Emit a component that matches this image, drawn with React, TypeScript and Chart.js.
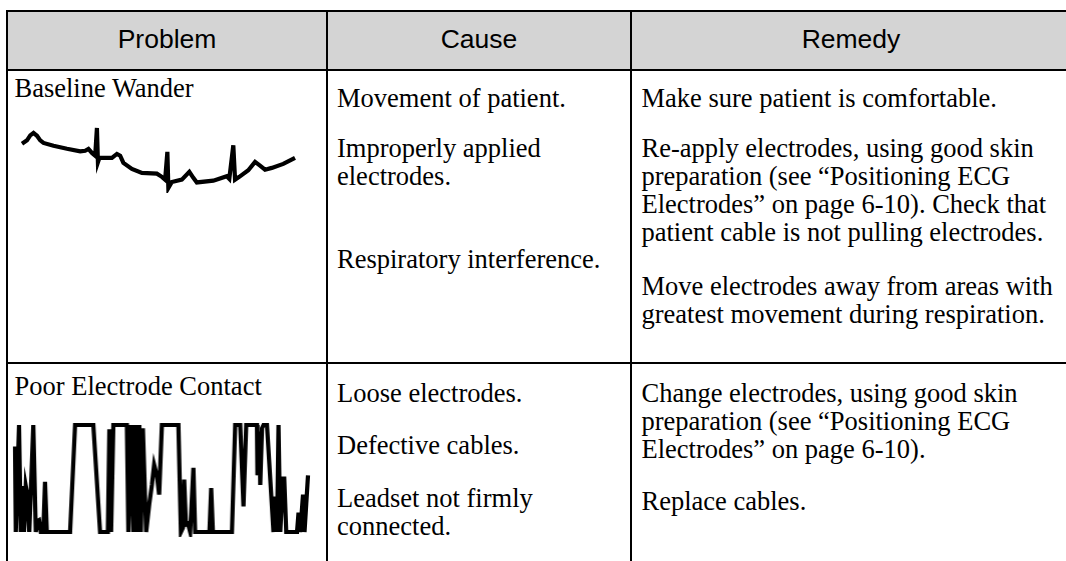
import React, { useEffect, useRef } from "react";
import { Chart, registerables } from "chart.js";

Chart.register(...registerables);

// ---------- table text ----------
const headers = ["Problem", "Cause", "Remedy"];
const problems = ["Baseline Wander", "Poor Electrode Contact"];
const causesRow1 = ["Movement of patient.", "Improperly applied electrodes.", "Respiratory interference."];
const remediesRow1 = [
  "Make sure patient is comfortable.",
  "Re-apply electrodes, using good skin preparation (see \u201CPositioning ECG Electrodes\u201D on page 6-10). Check that patient cable is not pulling electrodes.",
  "Move electrodes away from areas with greatest movement during respiration.",
];
const causesRow2 = ["Loose electrodes.", "Defective cables.", "Leadset not firmly connected."];
const remediesRow2 = [
  "Change electrodes, using good skin preparation (see \u201CPositioning ECG Electrodes\u201D on page 6-10).",
  "Replace cables.",
];

// ---------- waveform data (time in ms, amplitude in mV) ----------
const wanderTimeMs = [
  0, 20, 33, 46, 60, 73, 86, 126, 180, 233, 253, 266, 280, 293, 300, 304, 310, 360, 380, 393,
  406, 440, 480, 540, 560, 573, 582, 586, 600, 640, 670, 686, 700, 766, 820, 830, 846, 853, 870,
  906, 933, 953, 973, 1000, 1046, 1093,
];
const wanderMv = [
  1.8, 1.97, 2.22, 2.34, 2.2, 1.97, 1.84, 1.7, 1.55, 1.42, 1.45, 1.54, 1.34, 1.2, 2.59, 0.87, 1.09,
  1.09, 1.29, 1.2, 0.84, 0.54, 0.34, 0.3, 0.14, 0.0, 1.39, -0.42, -0.12, 0.0, 0.39, 0.09, -0.14,
  -0.05, 0.17, 0.04, 1.72, 0.0, 0.14, 0.47, 0.89, 0.7, 0.5, 0.59, 0.79, 1.09,
];

const contactTimeMs = [
  0, 3, 16, 23, 29, 36, 43, 49, 57, 73, 83, 89, 96, 103, 113, 120, 127, 220, 240, 313, 340, 371,
  377, 384, 393, 447, 453, 463, 473, 480, 489, 497, 503, 511, 524, 537, 547, 556, 567, 576, 587,
  653, 663, 671, 676, 683, 691, 700, 713, 720, 777, 784, 791, 867, 880, 900, 913, 924, 967, 969,
  977, 980, 987, 993, 1007, 1033, 1040, 1047, 1053, 1060, 1071, 1076, 1084, 1127, 1133, 1140,
  1151, 1157, 1171,
];
const contactMv = [
  0.9, -1.5, 1.5, -1.5, -0.21, -1.5, -0.21, -0.45, -1.5, 1.5, -1.5, -1.2, -1.17, -1.5, -1.5,
  -0.09, -1.5, -1.5, 1.5, 1.5, -1.5, -1.5, 1.38, -1.5, 1.5, 1.5, -1.5, 1.5, -1.5, 1.5, -1.5, 1.5,
  -1.5, 1.41, -1.5, -0.69, -0.18, 0.39, 0.09, -0.45, 1.5, 1.5, -1.5, -1.38, -0.03, -1.29, -1.26,
  -1.5, 0.3, -1.5, -1.5, -0.27, -1.5, -1.5, 1.5, 1.5, -0.78, 1.5, 1.5, 0.09, 1.32, -0.18, 1.41,
  1.5, 1.5, -1.5, -0.51, -1.5, 1.5, -1.5, 0.0, 0.0, -1.5, -1.5, -0.96, -1.5, -0.45, -1.5, 0.09,
];

// ---------- layout ----------
const BORDER = 2;
const X_LEFT = 6;
const X_DIV1 = 326;
const X_DIV2 = 630;
const X_RIGHT = 1070;
const Y_TOP = 10;
const Y_HEAD = 69;
const Y_ROW = 362;
const Y_BOTTOM = 620;

const SERIF = "'Liberation Serif', 'Times New Roman', Times, serif";
const SANS = "'Liberation Sans', Arial, Helvetica, sans-serif";
const FS = 26.5;
const LH = 28;
const BASE_OFF = 22.95; // baseline offset inside a 28px line box
const HEAD_BASE_OFF = 23.2; // sans baseline offset inside a 28px line box

type WaveProps = {
  times: number[];
  values: number[];
  xMax: number;
  yMin: number;
  yMax: number;
  left: number;
  top: number;
  width: number;
  height: number;
};

const PAD = 5;

function Waveform({ times, values, xMax, yMin, yMax, left, top, width, height }: WaveProps) {
  const ref = useRef<HTMLCanvasElement | null>(null);
  useEffect(() => {
    if (!ref.current) return;
    const chart = new Chart(ref.current, {
      type: "line",
      data: {
        datasets: [
          {
            data: times.map((t, i) => ({ x: t, y: values[i] })),
            borderColor: "#000",
            borderWidth: 4.2,
            pointRadius: 0,
            tension: 0,
            fill: false,
            clip: PAD,
            borderJoinStyle: "miter",
            borderCapStyle: "butt",
          } as any,
        ],
      },
      options: {
        animation: false,
        responsive: false,
        maintainAspectRatio: false,
        devicePixelRatio: 1,
        events: [],
        layout: { padding: PAD },
        plugins: { legend: { display: false }, tooltip: { enabled: false } },
        scales: {
          x: { type: "linear", display: false, min: 0, max: xMax },
          y: { type: "linear", display: false, min: yMin, max: yMax },
        },
      },
    });
    return () => chart.destroy();
  }, [times, values, xMax, yMin, yMax]);
  const w = width + PAD * 2;
  const h = height + PAD * 2;
  return (
    <canvas
      ref={ref}
      width={w}
      height={h}
      style={{ position: "absolute", left: left - PAD, top: top - PAD, width: w, height: h }}
    />
  );
}

function Paras({ items, gaps, left, baseline, width }: { items: string[]; gaps: number[]; left: number; baseline: number; width: number }) {
  return (
    <div
      style={{
        position: "absolute",
        left,
        top: baseline - BASE_OFF,
        width,
        fontFamily: SERIF,
        fontSize: FS,
        lineHeight: LH + "px",
        color: "#000",
      }}
    >
      {items.map((t, i) => (
        <div key={i} style={{ marginTop: gaps[i] || 0 }}>
          {t}
        </div>
      ))}
    </div>
  );
}

function Line({ x, y, w, h }: { x: number; y: number; w: number; h: number }) {
  return <div style={{ position: "absolute", left: x, top: y, width: w, height: h, background: "#000" }} />;
}

export default function App() {
  const colCenters = [(X_LEFT + X_DIV1 + BORDER) / 2, (X_DIV1 + X_DIV2 + BORDER) / 2, (X_DIV2 + X_RIGHT + BORDER) / 2];
  const row1Base = 107;
  const row2Base = 402;
  return (
    <div
      style={{
        position: "absolute",
        left: 0,
        top: 0,
        width: 1066,
        height: 561,
        overflow: "hidden",
        background: "#fff",
      }}
    >
      {/* header background */}
      <div
        style={{
          position: "absolute",
          left: X_LEFT,
          top: Y_TOP,
          width: X_RIGHT - X_LEFT,
          height: Y_HEAD - Y_TOP,
          background: "#d4d4d4",
        }}
      />
      {headers.map((h, i) => (
        <div
          key={h}
          style={{
            position: "absolute",
            left: colCenters[i] - 150,
            width: 300,
            top: 48.5 - HEAD_BASE_OFF,
            textAlign: "center",
            fontFamily: SANS,
            fontSize: FS,
            lineHeight: LH + "px",
            color: "#000",
          }}
        >
          {h}
        </div>
      ))}

      {/* row 1 */}
      <Paras items={[problems[0]]} gaps={[0]} left={14.5} baseline={97} width={305} />
      <Paras items={causesRow1} gaps={[0, 22, 55]} left={337} baseline={row1Base} width={289} />
      <Paras items={remediesRow1} gaps={[0, 22, 26]} left={641.5} baseline={row1Base} width={425} />
      <Waveform
        times={wanderTimeMs}
        values={wanderMv}
        xMax={1093}
        yMin={-0.42}
        yMax={2.59}
        left={21.7}
        top={128.3}
        width={273.3}
        height={60}
      />

      {/* row 2 */}
      <Paras items={[problems[1]]} gaps={[0]} left={14.5} baseline={395} width={305} />
      <Paras items={causesRow2} gaps={[0, 24.3, 24.3]} left={337} baseline={row2Base} width={289} />
      <Paras items={remediesRow2} gaps={[0, 24]} left={641.5} baseline={row2Base} width={425} />
      <Waveform
        times={contactTimeMs}
        values={contactMv}
        xMax={1171}
        yMin={-1.5}
        yMax={1.5}
        left={15}
        top={425}
        width={292.7}
        height={107.3}
      />

      {/* grid lines */}
      <Line x={X_LEFT} y={Y_TOP} w={X_RIGHT - X_LEFT + BORDER} h={BORDER} />
      <Line x={X_LEFT} y={Y_HEAD} w={X_RIGHT - X_LEFT + BORDER} h={BORDER} />
      <Line x={X_LEFT} y={Y_ROW} w={X_RIGHT - X_LEFT + BORDER} h={BORDER} />
      <Line x={X_LEFT} y={Y_TOP} w={BORDER} h={Y_BOTTOM - Y_TOP} />
      <Line x={X_DIV1} y={Y_TOP} w={BORDER} h={Y_BOTTOM - Y_TOP} />
      <Line x={X_DIV2} y={Y_TOP} w={BORDER} h={Y_BOTTOM - Y_TOP} />
      <Line x={X_RIGHT} y={Y_TOP} w={BORDER} h={Y_BOTTOM - Y_TOP} />
    </div>
  );
}
